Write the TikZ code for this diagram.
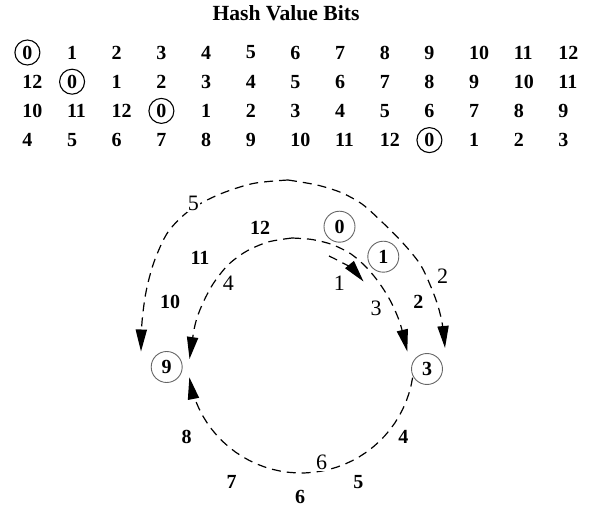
\documentclass[tikz,border=0pt]{standalone}
\usepackage{fontspec}
\setmainfont{Liberation Serif}
\usetikzlibrary{arrows.meta}
\begin{document}
\begin{tikzpicture}[x=0.5pt,y=-0.5pt,
  title/.style={font=\bfseries\fontsize{10.8pt}{13pt}\selectfont, inner sep=0pt, anchor=base},
  cell/.style={font=\bfseries\fontsize{10pt}{12pt}\selectfont, anchor=west, inner sep=0pt},
  tabring/.style={line width=0.55pt},
  slot/.style={font=\bfseries\fontsize{10pt}{12pt}\selectfont, inner sep=0pt},
  peer/.style={circle, draw=black!60, line width=0.45pt, minimum size=15.5pt, inner sep=0pt,
    font=\bfseries\fontsize{10pt}{12pt}\selectfont},
  order/.style={font=\fontsize{11pt}{13pt}\selectfont, inner sep=0.6pt},
  onarc/.style={order, fill=white},
  hop/.style={line width=0.6pt, dash pattern=on 4.5pt off 3pt,
    -{Triangle[length=11pt,width=5.6pt]}},
]
\useasboundingbox (0,0) rectangle (590,508);

% heading
\node[title] (head) at (286,20.7) {Hash Value Bits};

% table of rotated bit positions
\foreach \r/\yy/\vals in {
  1/52.5/{0,1,2,3,4,5,6,7,8,9,10,11,12},
  2/81.7/{12,0,1,2,3,4,5,6,7,8,9,10,11},
  3/110.9/{10,11,12,0,1,2,3,4,5,6,7,8,9},
  4/140.1/{4,5,6,7,8,9,10,11,12,0,1,2,3}} {
  \foreach \v [count=\c from 0] in \vals {
    \node[cell] (t\r-\c) at ({22+44.67*\c},\yy) {\v};
  }
}
\draw[tabring] (t1-0.center) circle[radius=12.5];
\draw[tabring] (t2-1.center) circle[radius=12.5];
\draw[tabring] (t3-3.center) circle[radius=12.5];
\draw[tabring] (t4-9.center) circle[radius=12.5];

% peers on the ring
\node[peer] (p0) at (339.5,226.7) {0};
\node[peer] (p1) at (383.3,256.7) {1};
\node[peer] (p3) at (427,369) {3};
\node[peer] (p9) at (166.7,367) {9};

% remaining ring positions
\node[slot] (r12) at (260,227.7) {12};
\node[slot] (r11) at (200,257.7) {11};
\node[slot] (r10) at (170,301.7) {10};
\node[slot] (r2)  at (418.3,301.7) {2};
\node[slot] (r4)  at (403.3,436.7) {4};
\node[slot] (r5)  at (358.3,481.7) {5};
\node[slot] (r6)  at (300,496.7) {6};
\node[slot] (r7)  at (231.7,481.7) {7};
\node[slot] (r8)  at (186.7,437.3) {8};

% lookup hops
\draw[hop] plot[smooth] coordinates {(288,180) (317,185) (341,192.5) (362,204) (381,221)
  (402,242) (420,264) (431,287) (438,306) (442.5,325) (445,348)};
\draw[hop] plot[smooth] coordinates {(288,180) (253,183.5) (219,194.5) (190,210) (168,232)
  (154,262) (146,292) (142,322) (141,351.5)};
\draw[hop] plot[smooth] coordinates {(292,238) (312,239.5) (332,244.5) (351,254) (367,268)
  (380,284) (391,302) (400,323) (407.3,351.5)};
\draw[hop] plot[smooth] coordinates {(292,238) (268,242) (246,251.5) (228,265) (213,284)
  (202,305) (195,325) (189.5,359)};
\draw[hop] (329,256) .. controls (343,262.5) and (354,270) .. (363.5,281.5);
\draw[hop] plot[domain=9:171.2, samples=40] ({301+113*cos(\x)}, {360+113*sin(\x)});

% hop order
\node[order] (h1) at (339.3,283.3) {1};
\node[order] (h2) at (442.7,276.7) {2};
\node[order] (h3) at (376,308.3) {3};
\node[order] (h4) at (228.3,283.3) {4};
\node[onarc] (h5) at (193.3,203.3) {5};
\node[onarc] (h6) at (321.7,462.5) {6};
\end{tikzpicture}
\end{document}
